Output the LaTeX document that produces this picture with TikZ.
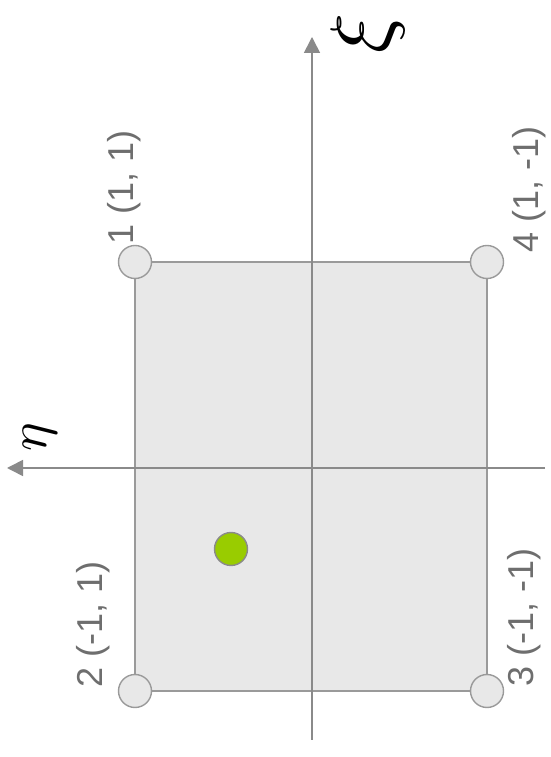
\documentclass[tikz,border=0pt]{standalone}
\usepackage{fontspec}
\setmainfont{Liberation Sans}
\usetikzlibrary{arrows.meta}
\definecolor{axisgray}{HTML}{8A8A8A}
\definecolor{edgegray}{HTML}{9A9A9A}
\definecolor{fillgray}{HTML}{E8E8E8}
\definecolor{labelgray}{HTML}{6E6E6E}
\definecolor{dotgreen}{HTML}{99CC00}
\begin{document}
\begin{tikzpicture}[x=1pt,y=1pt,
  axis/.style={draw=axisgray,line width=1.6pt,-{Triangle[length=16pt,width=16pt]}},
  corner/.style={circle,draw=edgegray,line width=1.4pt,fill=fillgray,minimum size=33pt,inner sep=0pt},
  lbl/.style={rotate=90,anchor=base west,inner sep=0pt,text=labelgray,font=\fontsize{36}{40}\selectfont}]
\useasboundingbox (0,0) rectangle (550,757);
\fill[white] (0,0) rectangle (550,757);
% element
\draw[draw=edgegray,fill=fillgray,line width=1.6pt] (135,66) rectangle (487,495);
% axes
\coordinate (xib) at (312,17);
\coordinate (xit) at (312,720);
\coordinate (etar) at (545,289);
\coordinate (etal) at (7,289);
\draw[axis] (xib) -- (xit);
\draw[axis] (etar) -- (etal);
\node[rotate=90,inner sep=0pt,scale=8.3] (xi) at (368,724) {$\xi$};
\node[rotate=90,inner sep=0pt,scale=5.4] (eta) at (40,320) {$\eta$};
% corners
\node[corner] (n1) at (135,495) {};
\node[corner] (n4) at (487,495) {};
\node[corner] (n2) at (135,66) {};
\node[corner] (n3) at (487,66) {};
% point
\node[circle,draw=axisgray,line width=1.4pt,fill=dotgreen,minimum size=33pt,inner sep=0pt] (p) at (231,208) {};
% labels
\node[lbl] (l1) at (133,512) {1 (1, 1)};
\node[lbl] (l4) at (538,504) {4 (1, -1)};
\node[lbl] (l2) at (102,69) {2 (-1, 1)};
\node[lbl] (l3) at (533,70) {3 (-1, -1)};
\end{tikzpicture}
\end{document}
